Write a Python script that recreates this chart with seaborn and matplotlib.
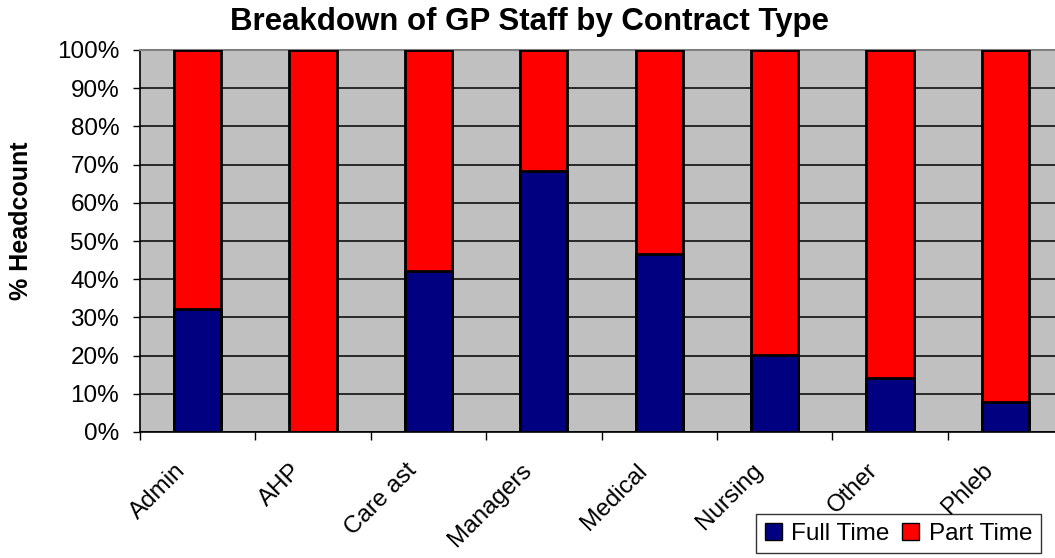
import matplotlib
matplotlib.use('Agg')
import matplotlib.pyplot as plt
import matplotlib.transforms as mtransforms
from matplotlib.patches import Patch
import numpy as np
import pandas as pd
import seaborn as sns

# values (% headcount)
categories = ['Admin', 'AHP', 'Care ast', 'Managers', 'Medical', 'Nursing', 'Other', 'Phleb']
full_time = [32.1, 0.0, 42.1, 68.3, 46.6, 20.2, 14.2, 7.8]
part_time = [67.9, 100.0, 57.9, 31.7, 53.4, 79.8, 85.8, 92.2]

df = pd.DataFrame({'category': categories, 'full': full_time, 'part': part_time})
df['total'] = df['full'] + df['part']

navy = '#000080'
red = '#FF0000'
grey = '#C0C0C0'

sns.set_style('white')
plt.rcParams['font.family'] = ['Liberation Sans', 'DejaVu Sans']
plt.rcParams['text.color'] = 'black'
plt.rcParams['axes.labelcolor'] = 'black'
plt.rcParams['xtick.color'] = 'black'
plt.rcParams['ytick.color'] = 'black'

fig = plt.figure(figsize=(10.55, 5.58), dpi=100)
ax = fig.add_axes([140 / 1055, 1 - 432 / 558, 923 / 1055, 382 / 558])
ax.set_facecolor(grey)

#%% stacked bars: part time drawn full height, full time on top of it
sns.barplot(data=df, x='category', y='total', color=red, saturation=1,
            width=0.41, edgecolor='black', linewidth=2, ax=ax, zorder=3)
sns.barplot(data=df, x='category', y='full', color=navy, saturation=1,
            width=0.41, edgecolor='black', linewidth=2, ax=ax, zorder=4)

ax.set_xlim(-0.5, len(categories) - 0.5)
ax.set_ylim(0, 100)
ax.set_yticks(np.arange(0, 101, 10))
ax.set_yticklabels([f'{v}%' for v in range(0, 101, 10)], fontsize=17.5)
ax.yaxis.grid(True, color='black', linewidth=1.1, zorder=1)
ax.set_axisbelow(True)

ax.set_xticks(range(len(categories)))
ax.set_xticklabels(categories, rotation=45, ha='right', rotation_mode='anchor', fontsize=17.5)
ax.set_xticks(np.arange(-0.5, len(categories), 1), minor=True)
ax.tick_params(axis='x', which='major', bottom=True, length=0, pad=14)
ax.tick_params(axis='x', which='minor', bottom=True, length=6, width=1, color='black', direction='out')
ax.tick_params(axis='y', left=True, length=5, width=1, color='black', direction='out', pad=10)

# shift rotated category labels to sit like the original
offset = mtransforms.ScaledTranslation(-23 / 100, -8 / 100, fig.dpi_scale_trans)
for lab in ax.get_xticklabels():
    lab.set_transform(lab.get_transform() + offset)

for s in ['left', 'bottom']:
    ax.spines[s].set_color('black')
    ax.spines[s].set_linewidth(1.2)
for s in ['top', 'right']:
    ax.spines[s].set_color('#808080')
    ax.spines[s].set_linewidth(1.5)

ax.set_xlabel('')
ax.set_ylabel('% Headcount', fontsize=18, fontweight='bold')
ax.yaxis.set_label_coords((33 - 140) / 923, (432 - 221) / 382)
fig.text(530 / 1055, 1 - 22 / 558, 'Breakdown of GP Staff by Contract Type',
         fontsize=22.5, fontweight='bold', ha='center', va='center')

handles = [Patch(facecolor=navy, edgecolor='black', label='Full Time'),
           Patch(facecolor=red, edgecolor='black', label='Part Time')]
leg = fig.legend(handles=handles, loc='upper left', bbox_to_anchor=(756 / 1055, 1 - 514 / 558),
                 ncol=2, fontsize=17.5, frameon=True, fancybox=False,
                 handlelength=0.7, handleheight=0.7, handletextpad=0.4, columnspacing=0.5,
                 borderpad=0.35, borderaxespad=0)
leg.get_frame().set_edgecolor('black')
leg.get_frame().set_linewidth(1)

fig.savefig('out.png', dpi=100)
